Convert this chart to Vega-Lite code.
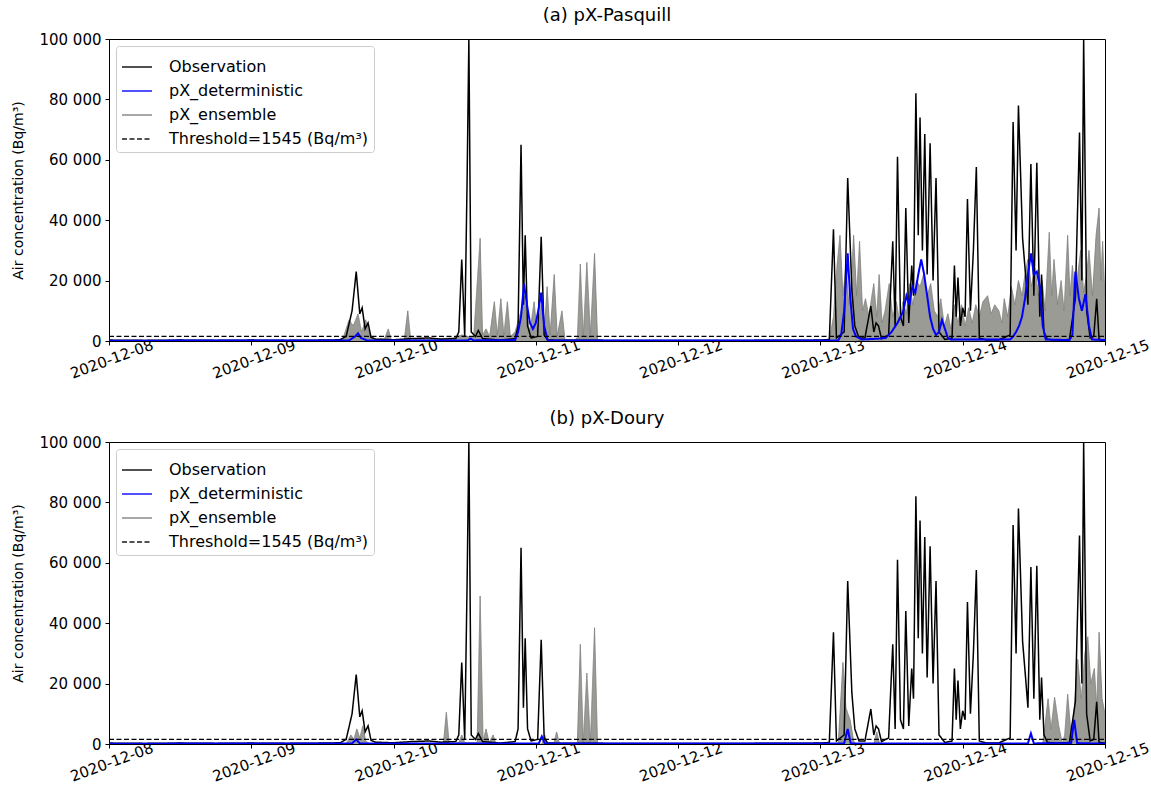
{
  "$schema": "https://vega.github.io/schema/vega-lite/v6.json",
  "padding": {"left": 11, "top": 6, "right": 5, "bottom": 5},
  "background": "white",
  "config": {
    "font": "DejaVu Sans",
    "view": {"stroke": "black", "strokeWidth": 1},
    "axis": {"labelFont": "DejaVu Sans", "labelFontSize": 15, "labelColor": "black", "titleFont": "DejaVu Sans", "titleFontSize": 14, "titleFontWeight": "normal", "titleColor": "black", "tickColor": "black", "domainColor": "black", "tickSize": 4, "grid": false},
    "legend": {"labelFont": "DejaVu Sans", "labelFontSize": 16, "labelColor": "black", "labelLimit": 0},
    "title": {"font": "DejaVu Sans", "fontSize": 18, "fontWeight": "normal", "color": "black", "anchor": "middle", "offset": 7}
  },
  "datasets": {
    "obs": [
      {"t":"2020-12-08T00:00","v":300,"s":"Observation"},{"t":"2020-12-08T06:00","v":200,"s":"Observation"},{"t":"2020-12-08T12:00","v":300,"s":"Observation"},{"t":"2020-12-08T18:00","v":200,"s":"Observation"},
      {"t":"2020-12-09T00:00","v":300,"s":"Observation"},{"t":"2020-12-09T06:00","v":200,"s":"Observation"},{"t":"2020-12-09T12:00","v":300,"s":"Observation"},{"t":"2020-12-09T15:00","v":400,"s":"Observation"},
      {"t":"2020-12-09T16:00","v":1500,"s":"Observation"},{"t":"2020-12-09T17:00","v":10000,"s":"Observation"},{"t":"2020-12-09T17:42","v":23000,"s":"Observation"},{"t":"2020-12-09T18:18","v":9000,"s":"Observation"},
      {"t":"2020-12-09T18:42","v":11000,"s":"Observation"},{"t":"2020-12-09T19:12","v":4000,"s":"Observation"},{"t":"2020-12-09T19:42","v":6000,"s":"Observation"},{"t":"2020-12-09T20:12","v":1200,"s":"Observation"},
      {"t":"2020-12-09T21:00","v":600,"s":"Observation"},{"t":"2020-12-10T00:00","v":400,"s":"Observation"},{"t":"2020-12-10T03:00","v":800,"s":"Observation"},{"t":"2020-12-10T06:00","v":1000,"s":"Observation"},
      {"t":"2020-12-10T08:00","v":600,"s":"Observation"},{"t":"2020-12-10T10:30","v":800,"s":"Observation"},{"t":"2020-12-10T11:00","v":3000,"s":"Observation"},{"t":"2020-12-10T11:30","v":27000,"s":"Observation"},
      {"t":"2020-12-10T12:00","v":1500,"s":"Observation"},{"t":"2020-12-10T12:24","v":53000,"s":"Observation"},{"t":"2020-12-10T12:42","v":100000,"s":"Observation"},{"t":"2020-12-10T13:06","v":3000,"s":"Observation"},
      {"t":"2020-12-10T13:48","v":1500,"s":"Observation"},{"t":"2020-12-10T14:18","v":3500,"s":"Observation"},{"t":"2020-12-10T15:00","v":800,"s":"Observation"},{"t":"2020-12-10T18:00","v":300,"s":"Observation"},
      {"t":"2020-12-10T20:30","v":800,"s":"Observation"},{"t":"2020-12-10T21:00","v":5000,"s":"Observation"},{"t":"2020-12-10T21:30","v":65000,"s":"Observation"},{"t":"2020-12-10T21:54","v":12000,"s":"Observation"},
      {"t":"2020-12-10T22:12","v":35000,"s":"Observation"},{"t":"2020-12-10T22:36","v":5000,"s":"Observation"},{"t":"2020-12-10T23:12","v":1000,"s":"Observation"},{"t":"2020-12-11T00:18","v":1500,"s":"Observation"},
      {"t":"2020-12-11T00:54","v":34500,"s":"Observation"},{"t":"2020-12-11T01:24","v":2000,"s":"Observation"},{"t":"2020-12-11T02:00","v":300,"s":"Observation"},{"t":"2020-12-11T12:00","v":200,"s":"Observation"},
      {"t":"2020-12-12T00:00","v":200,"s":"Observation"},{"t":"2020-12-12T12:00","v":200,"s":"Observation"},{"t":"2020-12-13T00:00","v":300,"s":"Observation"},{"t":"2020-12-13T01:30","v":500,"s":"Observation"},
      {"t":"2020-12-13T02:12","v":37000,"s":"Observation"},{"t":"2020-12-13T02:42","v":1000,"s":"Observation"},{"t":"2020-12-13T04:00","v":3000,"s":"Observation"},{"t":"2020-12-13T04:36","v":54000,"s":"Observation"},
      {"t":"2020-12-13T05:18","v":17000,"s":"Observation"},{"t":"2020-12-13T05:48","v":5000,"s":"Observation"},{"t":"2020-12-13T06:30","v":1000,"s":"Observation"},{"t":"2020-12-13T07:30","v":1000,"s":"Observation"},
      {"t":"2020-12-13T08:30","v":11600,"s":"Observation"},{"t":"2020-12-13T09:00","v":3000,"s":"Observation"},{"t":"2020-12-13T09:24","v":6000,"s":"Observation"},{"t":"2020-12-13T09:48","v":5000,"s":"Observation"},
      {"t":"2020-12-13T10:18","v":800,"s":"Observation"},{"t":"2020-12-13T11:30","v":2000,"s":"Observation"},{"t":"2020-12-13T12:12","v":33000,"s":"Observation"},{"t":"2020-12-13T12:36","v":5000,"s":"Observation"},
      {"t":"2020-12-13T13:00","v":61000,"s":"Observation"},{"t":"2020-12-13T13:30","v":8000,"s":"Observation"},{"t":"2020-12-13T14:00","v":5000,"s":"Observation"},{"t":"2020-12-13T14:24","v":44000,"s":"Observation"},
      {"t":"2020-12-13T14:54","v":6000,"s":"Observation"},{"t":"2020-12-13T15:24","v":25000,"s":"Observation"},{"t":"2020-12-13T15:42","v":15000,"s":"Observation"},{"t":"2020-12-13T16:06","v":82000,"s":"Observation"},
      {"t":"2020-12-13T16:30","v":35000,"s":"Observation"},{"t":"2020-12-13T16:48","v":74000,"s":"Observation"},{"t":"2020-12-13T17:12","v":30000,"s":"Observation"},{"t":"2020-12-13T17:36","v":68500,"s":"Observation"},
      {"t":"2020-12-13T18:00","v":22000,"s":"Observation"},{"t":"2020-12-13T18:30","v":65500,"s":"Observation"},{"t":"2020-12-13T19:00","v":20000,"s":"Observation"},{"t":"2020-12-13T19:30","v":54000,"s":"Observation"},
      {"t":"2020-12-13T20:00","v":3000,"s":"Observation"},{"t":"2020-12-13T21:00","v":500,"s":"Observation"},{"t":"2020-12-13T22:12","v":1000,"s":"Observation"},{"t":"2020-12-13T22:36","v":25000,"s":"Observation"},
      {"t":"2020-12-13T22:54","v":8000,"s":"Observation"},{"t":"2020-12-13T23:12","v":21000,"s":"Observation"},{"t":"2020-12-13T23:36","v":5000,"s":"Observation"},{"t":"2020-12-14T00:00","v":11000,"s":"Observation"},
      {"t":"2020-12-14T00:24","v":8000,"s":"Observation"},{"t":"2020-12-14T00:48","v":47000,"s":"Observation"},{"t":"2020-12-14T01:18","v":10000,"s":"Observation"},{"t":"2020-12-14T01:48","v":30000,"s":"Observation"},
      {"t":"2020-12-14T02:18","v":57600,"s":"Observation"},{"t":"2020-12-14T02:48","v":1000,"s":"Observation"},{"t":"2020-12-14T04:00","v":300,"s":"Observation"},{"t":"2020-12-14T06:00","v":300,"s":"Observation"},
      {"t":"2020-12-14T08:00","v":2000,"s":"Observation"},{"t":"2020-12-14T08:30","v":72500,"s":"Observation"},{"t":"2020-12-14T09:00","v":30000,"s":"Observation"},{"t":"2020-12-14T09:24","v":78000,"s":"Observation"},
      {"t":"2020-12-14T10:06","v":34000,"s":"Observation"},{"t":"2020-12-14T10:36","v":22000,"s":"Observation"},{"t":"2020-12-14T11:00","v":12000,"s":"Observation"},{"t":"2020-12-14T11:30","v":58600,"s":"Observation"},
      {"t":"2020-12-14T12:00","v":15000,"s":"Observation"},{"t":"2020-12-14T12:30","v":59000,"s":"Observation"},{"t":"2020-12-14T13:00","v":8000,"s":"Observation"},{"t":"2020-12-14T13:18","v":22000,"s":"Observation"},
      {"t":"2020-12-14T13:42","v":3000,"s":"Observation"},{"t":"2020-12-14T14:18","v":500,"s":"Observation"},{"t":"2020-12-14T16:00","v":300,"s":"Observation"},{"t":"2020-12-14T18:00","v":500,"s":"Observation"},
      {"t":"2020-12-14T19:00","v":14000,"s":"Observation"},{"t":"2020-12-14T19:42","v":69000,"s":"Observation"},{"t":"2020-12-14T20:06","v":20000,"s":"Observation"},{"t":"2020-12-14T20:24","v":100000,"s":"Observation"},
      {"t":"2020-12-14T20:54","v":10000,"s":"Observation"},{"t":"2020-12-14T21:30","v":1000,"s":"Observation"},{"t":"2020-12-14T22:06","v":1500,"s":"Observation"},{"t":"2020-12-14T22:36","v":14000,"s":"Observation"},
      {"t":"2020-12-14T23:00","v":500,"s":"Observation"},{"t":"2020-12-15T00:00","v":300,"s":"Observation"}
    ],
    "ens_a": [
      {"t":"2020-12-08T00:00","v":0,"s":"pX_ensemble"},{"t":"2020-12-09T14:00","v":0,"s":"pX_ensemble"},{"t":"2020-12-09T15:30","v":1000,"s":"pX_ensemble"},{"t":"2020-12-09T16:30","v":7000,"s":"pX_ensemble"},
      {"t":"2020-12-09T17:12","v":5000,"s":"pX_ensemble"},{"t":"2020-12-09T18:00","v":9000,"s":"pX_ensemble"},{"t":"2020-12-09T18:36","v":3000,"s":"pX_ensemble"},{"t":"2020-12-09T19:18","v":7000,"s":"pX_ensemble"},
      {"t":"2020-12-09T20:00","v":2000,"s":"pX_ensemble"},{"t":"2020-12-09T21:00","v":500,"s":"pX_ensemble"},{"t":"2020-12-09T22:30","v":800,"s":"pX_ensemble"},{"t":"2020-12-09T23:06","v":4000,"s":"pX_ensemble"},
      {"t":"2020-12-09T23:36","v":500,"s":"pX_ensemble"},{"t":"2020-12-10T01:48","v":300,"s":"pX_ensemble"},{"t":"2020-12-10T02:24","v":10000,"s":"pX_ensemble"},{"t":"2020-12-10T02:54","v":300,"s":"pX_ensemble"},
      {"t":"2020-12-10T05:00","v":600,"s":"pX_ensemble"},{"t":"2020-12-10T08:00","v":800,"s":"pX_ensemble"},{"t":"2020-12-10T10:00","v":1000,"s":"pX_ensemble"},{"t":"2020-12-10T11:30","v":2000,"s":"pX_ensemble"},
      {"t":"2020-12-10T12:30","v":1500,"s":"pX_ensemble"},{"t":"2020-12-10T13:30","v":1000,"s":"pX_ensemble"},{"t":"2020-12-10T14:36","v":34000,"s":"pX_ensemble"},{"t":"2020-12-10T15:00","v":2000,"s":"pX_ensemble"},
      {"t":"2020-12-10T15:36","v":4000,"s":"pX_ensemble"},{"t":"2020-12-10T16:12","v":1500,"s":"pX_ensemble"},{"t":"2020-12-10T17:00","v":13000,"s":"pX_ensemble"},{"t":"2020-12-10T17:30","v":2000,"s":"pX_ensemble"},
      {"t":"2020-12-10T18:06","v":14000,"s":"pX_ensemble"},{"t":"2020-12-10T18:36","v":2000,"s":"pX_ensemble"},{"t":"2020-12-10T19:12","v":13000,"s":"pX_ensemble"},{"t":"2020-12-10T19:42","v":1500,"s":"pX_ensemble"},
      {"t":"2020-12-10T20:30","v":3000,"s":"pX_ensemble"},{"t":"2020-12-10T21:30","v":10000,"s":"pX_ensemble"},{"t":"2020-12-10T22:00","v":15000,"s":"pX_ensemble"},{"t":"2020-12-10T22:30","v":8000,"s":"pX_ensemble"},
      {"t":"2020-12-10T23:00","v":3000,"s":"pX_ensemble"},{"t":"2020-12-10T23:42","v":13000,"s":"pX_ensemble"},{"t":"2020-12-11T00:12","v":3000,"s":"pX_ensemble"},{"t":"2020-12-11T00:54","v":12000,"s":"pX_ensemble"},
      {"t":"2020-12-11T01:24","v":2000,"s":"pX_ensemble"},{"t":"2020-12-11T01:54","v":18000,"s":"pX_ensemble"},{"t":"2020-12-11T02:24","v":2000,"s":"pX_ensemble"},{"t":"2020-12-11T03:06","v":22000,"s":"pX_ensemble"},
      {"t":"2020-12-11T03:36","v":1500,"s":"pX_ensemble"},{"t":"2020-12-11T04:24","v":10000,"s":"pX_ensemble"},{"t":"2020-12-11T04:54","v":500,"s":"pX_ensemble"},{"t":"2020-12-11T06:30","v":300,"s":"pX_ensemble"},
      {"t":"2020-12-11T07:00","v":1000,"s":"pX_ensemble"},{"t":"2020-12-11T07:30","v":25500,"s":"pX_ensemble"},{"t":"2020-12-11T08:00","v":1500,"s":"pX_ensemble"},{"t":"2020-12-11T08:36","v":26000,"s":"pX_ensemble"},
      {"t":"2020-12-11T09:12","v":2000,"s":"pX_ensemble"},{"t":"2020-12-11T09:54","v":29000,"s":"pX_ensemble"},{"t":"2020-12-11T10:24","v":500,"s":"pX_ensemble"},{"t":"2020-12-11T12:00","v":0,"s":"pX_ensemble"},
      {"t":"2020-12-13T00:00","v":0,"s":"pX_ensemble"},{"t":"2020-12-13T01:30","v":500,"s":"pX_ensemble"},{"t":"2020-12-13T02:12","v":8000,"s":"pX_ensemble"},{"t":"2020-12-13T02:48","v":25000,"s":"pX_ensemble"},
      {"t":"2020-12-13T03:18","v":35000,"s":"pX_ensemble"},{"t":"2020-12-13T03:48","v":15000,"s":"pX_ensemble"},{"t":"2020-12-13T04:18","v":25000,"s":"pX_ensemble"},{"t":"2020-12-13T04:48","v":12000,"s":"pX_ensemble"},
      {"t":"2020-12-13T05:12","v":20000,"s":"pX_ensemble"},{"t":"2020-12-13T05:36","v":35000,"s":"pX_ensemble"},{"t":"2020-12-13T06:06","v":15000,"s":"pX_ensemble"},{"t":"2020-12-13T06:36","v":33000,"s":"pX_ensemble"},
      {"t":"2020-12-13T07:06","v":10000,"s":"pX_ensemble"},{"t":"2020-12-13T07:36","v":14000,"s":"pX_ensemble"},{"t":"2020-12-13T08:12","v":8000,"s":"pX_ensemble"},{"t":"2020-12-13T08:36","v":14000,"s":"pX_ensemble"},
      {"t":"2020-12-13T09:00","v":19000,"s":"pX_ensemble"},{"t":"2020-12-13T09:30","v":8000,"s":"pX_ensemble"},{"t":"2020-12-13T09:54","v":22000,"s":"pX_ensemble"},{"t":"2020-12-13T10:24","v":6000,"s":"pX_ensemble"},
      {"t":"2020-12-13T10:54","v":10000,"s":"pX_ensemble"},{"t":"2020-12-13T11:36","v":19000,"s":"pX_ensemble"},{"t":"2020-12-13T12:12","v":8000,"s":"pX_ensemble"},{"t":"2020-12-13T12:48","v":13000,"s":"pX_ensemble"},
      {"t":"2020-12-13T13:24","v":6000,"s":"pX_ensemble"},{"t":"2020-12-13T13:54","v":13000,"s":"pX_ensemble"},{"t":"2020-12-13T14:30","v":9000,"s":"pX_ensemble"},{"t":"2020-12-13T15:00","v":19000,"s":"pX_ensemble"},
      {"t":"2020-12-13T15:36","v":12000,"s":"pX_ensemble"},{"t":"2020-12-13T16:12","v":20000,"s":"pX_ensemble"},{"t":"2020-12-13T16:48","v":18000,"s":"pX_ensemble"},{"t":"2020-12-13T17:24","v":22000,"s":"pX_ensemble"},
      {"t":"2020-12-13T18:00","v":15000,"s":"pX_ensemble"},{"t":"2020-12-13T18:36","v":19000,"s":"pX_ensemble"},{"t":"2020-12-13T19:12","v":10000,"s":"pX_ensemble"},{"t":"2020-12-13T19:48","v":8000,"s":"pX_ensemble"},
      {"t":"2020-12-13T20:18","v":14000,"s":"pX_ensemble"},{"t":"2020-12-13T20:54","v":5000,"s":"pX_ensemble"},{"t":"2020-12-13T21:30","v":9000,"s":"pX_ensemble"},{"t":"2020-12-13T22:00","v":4000,"s":"pX_ensemble"},
      {"t":"2020-12-13T22:36","v":12000,"s":"pX_ensemble"},{"t":"2020-12-13T23:12","v":6000,"s":"pX_ensemble"},{"t":"2020-12-13T23:48","v":12000,"s":"pX_ensemble"},{"t":"2020-12-14T00:24","v":5000,"s":"pX_ensemble"},
      {"t":"2020-12-14T01:00","v":11000,"s":"pX_ensemble"},{"t":"2020-12-14T01:36","v":6000,"s":"pX_ensemble"},{"t":"2020-12-14T02:12","v":12000,"s":"pX_ensemble"},{"t":"2020-12-14T02:48","v":8000,"s":"pX_ensemble"},
      {"t":"2020-12-14T03:24","v":13000,"s":"pX_ensemble"},{"t":"2020-12-14T04:12","v":15000,"s":"pX_ensemble"},{"t":"2020-12-14T04:48","v":9000,"s":"pX_ensemble"},{"t":"2020-12-14T05:24","v":12000,"s":"pX_ensemble"},
      {"t":"2020-12-14T06:06","v":10000,"s":"pX_ensemble"},{"t":"2020-12-14T06:36","v":6000,"s":"pX_ensemble"},{"t":"2020-12-14T07:00","v":14000,"s":"pX_ensemble"},{"t":"2020-12-14T07:36","v":8000,"s":"pX_ensemble"},
      {"t":"2020-12-14T08:12","v":18000,"s":"pX_ensemble"},{"t":"2020-12-14T08:48","v":12000,"s":"pX_ensemble"},{"t":"2020-12-14T09:24","v":20000,"s":"pX_ensemble"},{"t":"2020-12-14T10:00","v":15000,"s":"pX_ensemble"},
      {"t":"2020-12-14T10:30","v":22000,"s":"pX_ensemble"},{"t":"2020-12-14T11:00","v":27000,"s":"pX_ensemble"},{"t":"2020-12-14T11:36","v":18000,"s":"pX_ensemble"},{"t":"2020-12-14T12:12","v":24000,"s":"pX_ensemble"},
      {"t":"2020-12-14T12:48","v":15000,"s":"pX_ensemble"},{"t":"2020-12-14T13:24","v":20000,"s":"pX_ensemble"},{"t":"2020-12-14T13:54","v":10000,"s":"pX_ensemble"},{"t":"2020-12-14T14:36","v":36000,"s":"pX_ensemble"},
      {"t":"2020-12-14T15:00","v":15000,"s":"pX_ensemble"},{"t":"2020-12-14T15:24","v":27000,"s":"pX_ensemble"},{"t":"2020-12-14T16:00","v":12000,"s":"pX_ensemble"},{"t":"2020-12-14T16:36","v":20000,"s":"pX_ensemble"},
      {"t":"2020-12-14T17:06","v":10000,"s":"pX_ensemble"},{"t":"2020-12-14T17:42","v":35000,"s":"pX_ensemble"},{"t":"2020-12-14T18:06","v":15000,"s":"pX_ensemble"},{"t":"2020-12-14T18:30","v":25000,"s":"pX_ensemble"},
      {"t":"2020-12-14T19:00","v":14000,"s":"pX_ensemble"},{"t":"2020-12-14T19:24","v":22000,"s":"pX_ensemble"},{"t":"2020-12-14T19:54","v":30000,"s":"pX_ensemble"},{"t":"2020-12-14T20:24","v":16000,"s":"pX_ensemble"},
      {"t":"2020-12-14T20:54","v":22000,"s":"pX_ensemble"},{"t":"2020-12-14T21:18","v":30000,"s":"pX_ensemble"},{"t":"2020-12-14T21:54","v":15000,"s":"pX_ensemble"},{"t":"2020-12-14T22:30","v":35000,"s":"pX_ensemble"},
      {"t":"2020-12-14T23:00","v":44000,"s":"pX_ensemble"},{"t":"2020-12-14T23:18","v":20000,"s":"pX_ensemble"},{"t":"2020-12-14T23:36","v":33000,"s":"pX_ensemble"},{"t":"2020-12-15T00:00","v":15000,"s":"pX_ensemble"}
    ],
    "det_a": [
      {"t":"2020-12-08T00:00","v":100,"s":"pX_deterministic"},{"t":"2020-12-09T16:30","v":200,"s":"pX_deterministic"},{"t":"2020-12-09T17:30","v":1500,"s":"pX_deterministic"},{"t":"2020-12-09T18:00","v":2500,"s":"pX_deterministic"},
      {"t":"2020-12-09T18:30","v":1000,"s":"pX_deterministic"},{"t":"2020-12-09T19:30","v":200,"s":"pX_deterministic"},{"t":"2020-12-10T12:30","v":200,"s":"pX_deterministic"},{"t":"2020-12-10T13:00","v":800,"s":"pX_deterministic"},
      {"t":"2020-12-10T13:30","v":200,"s":"pX_deterministic"},{"t":"2020-12-10T20:30","v":300,"s":"pX_deterministic"},{"t":"2020-12-10T21:00","v":3000,"s":"pX_deterministic"},{"t":"2020-12-10T21:30","v":8000,"s":"pX_deterministic"},
      {"t":"2020-12-10T22:00","v":19000,"s":"pX_deterministic"},{"t":"2020-12-10T22:30","v":12000,"s":"pX_deterministic"},{"t":"2020-12-10T23:00","v":6000,"s":"pX_deterministic"},{"t":"2020-12-10T23:30","v":4000,"s":"pX_deterministic"},
      {"t":"2020-12-11T00:00","v":6000,"s":"pX_deterministic"},{"t":"2020-12-11T00:30","v":11000,"s":"pX_deterministic"},{"t":"2020-12-11T00:54","v":16000,"s":"pX_deterministic"},{"t":"2020-12-11T01:24","v":5000,"s":"pX_deterministic"},
      {"t":"2020-12-11T02:00","v":200,"s":"pX_deterministic"},{"t":"2020-12-13T03:00","v":200,"s":"pX_deterministic"},{"t":"2020-12-13T03:30","v":2000,"s":"pX_deterministic"},{"t":"2020-12-13T04:00","v":10000,"s":"pX_deterministic"},
      {"t":"2020-12-13T04:36","v":29000,"s":"pX_deterministic"},{"t":"2020-12-13T05:00","v":15000,"s":"pX_deterministic"},{"t":"2020-12-13T05:30","v":4000,"s":"pX_deterministic"},{"t":"2020-12-13T06:00","v":1500,"s":"pX_deterministic"},
      {"t":"2020-12-13T07:00","v":500,"s":"pX_deterministic"},{"t":"2020-12-13T10:00","v":800,"s":"pX_deterministic"},{"t":"2020-12-13T11:00","v":1000,"s":"pX_deterministic"},{"t":"2020-12-13T12:00","v":3000,"s":"pX_deterministic"},
      {"t":"2020-12-13T13:00","v":6000,"s":"pX_deterministic"},{"t":"2020-12-13T14:00","v":10000,"s":"pX_deterministic"},{"t":"2020-12-13T14:30","v":15000,"s":"pX_deterministic"},{"t":"2020-12-13T15:00","v":12000,"s":"pX_deterministic"},
      {"t":"2020-12-13T15:30","v":18000,"s":"pX_deterministic"},{"t":"2020-12-13T16:00","v":16000,"s":"pX_deterministic"},{"t":"2020-12-13T16:30","v":22000,"s":"pX_deterministic"},{"t":"2020-12-13T17:00","v":27000,"s":"pX_deterministic"},
      {"t":"2020-12-13T17:30","v":22000,"s":"pX_deterministic"},{"t":"2020-12-13T18:00","v":15000,"s":"pX_deterministic"},{"t":"2020-12-13T18:30","v":8000,"s":"pX_deterministic"},{"t":"2020-12-13T19:00","v":4000,"s":"pX_deterministic"},
      {"t":"2020-12-13T19:30","v":2000,"s":"pX_deterministic"},{"t":"2020-12-13T20:00","v":3000,"s":"pX_deterministic"},{"t":"2020-12-13T20:30","v":7000,"s":"pX_deterministic"},{"t":"2020-12-13T21:00","v":4000,"s":"pX_deterministic"},
      {"t":"2020-12-13T21:30","v":1000,"s":"pX_deterministic"},{"t":"2020-12-13T22:00","v":500,"s":"pX_deterministic"},{"t":"2020-12-14T08:00","v":500,"s":"pX_deterministic"},{"t":"2020-12-14T08:30","v":1500,"s":"pX_deterministic"},
      {"t":"2020-12-14T09:00","v":3000,"s":"pX_deterministic"},{"t":"2020-12-14T09:30","v":5000,"s":"pX_deterministic"},{"t":"2020-12-14T10:00","v":8000,"s":"pX_deterministic"},{"t":"2020-12-14T10:30","v":14000,"s":"pX_deterministic"},
      {"t":"2020-12-14T11:00","v":22000,"s":"pX_deterministic"},{"t":"2020-12-14T11:30","v":29000,"s":"pX_deterministic"},{"t":"2020-12-14T12:00","v":22000,"s":"pX_deterministic"},{"t":"2020-12-14T12:30","v":23000,"s":"pX_deterministic"},
      {"t":"2020-12-14T13:00","v":18000,"s":"pX_deterministic"},{"t":"2020-12-14T13:30","v":5000,"s":"pX_deterministic"},{"t":"2020-12-14T14:00","v":500,"s":"pX_deterministic"},{"t":"2020-12-14T18:00","v":300,"s":"pX_deterministic"},
      {"t":"2020-12-14T18:30","v":2000,"s":"pX_deterministic"},{"t":"2020-12-14T19:00","v":23000,"s":"pX_deterministic"},{"t":"2020-12-14T19:36","v":14000,"s":"pX_deterministic"},{"t":"2020-12-14T20:06","v":10000,"s":"pX_deterministic"},
      {"t":"2020-12-14T20:42","v":15500,"s":"pX_deterministic"},{"t":"2020-12-14T21:18","v":5000,"s":"pX_deterministic"},{"t":"2020-12-14T21:48","v":500,"s":"pX_deterministic"},{"t":"2020-12-15T00:00","v":300,"s":"pX_deterministic"}
    ],
    "det_b": [
      {"t":"2020-12-08T00:00","v":100,"s":"pX_deterministic"},{"t":"2020-12-09T17:00","v":200,"s":"pX_deterministic"},{"t":"2020-12-09T17:42","v":1500,"s":"pX_deterministic"},{"t":"2020-12-09T18:18","v":200,"s":"pX_deterministic"},
      {"t":"2020-12-11T00:30","v":200,"s":"pX_deterministic"},{"t":"2020-12-11T01:00","v":2500,"s":"pX_deterministic"},{"t":"2020-12-11T01:30","v":200,"s":"pX_deterministic"},{"t":"2020-12-13T04:00","v":200,"s":"pX_deterministic"},
      {"t":"2020-12-13T04:36","v":5000,"s":"pX_deterministic"},{"t":"2020-12-13T05:06","v":200,"s":"pX_deterministic"},{"t":"2020-12-14T11:00","v":200,"s":"pX_deterministic"},{"t":"2020-12-14T11:30","v":3500,"s":"pX_deterministic"},
      {"t":"2020-12-14T12:00","v":200,"s":"pX_deterministic"},{"t":"2020-12-14T18:18","v":300,"s":"pX_deterministic"},{"t":"2020-12-14T18:48","v":8000,"s":"pX_deterministic"},{"t":"2020-12-14T19:18","v":300,"s":"pX_deterministic"},
      {"t":"2020-12-15T00:00","v":100,"s":"pX_deterministic"}
    ],
    "ens_b": [
      {"t":"2020-12-08T00:00","v":0,"s":"pX_ensemble"},{"t":"2020-12-09T16:00","v":0,"s":"pX_ensemble"},{"t":"2020-12-09T16:48","v":3000,"s":"pX_ensemble"},{"t":"2020-12-09T17:18","v":1500,"s":"pX_ensemble"},
      {"t":"2020-12-09T17:48","v":5000,"s":"pX_ensemble"},{"t":"2020-12-09T18:18","v":2000,"s":"pX_ensemble"},{"t":"2020-12-09T18:48","v":6000,"s":"pX_ensemble"},{"t":"2020-12-09T19:18","v":1000,"s":"pX_ensemble"},
      {"t":"2020-12-09T20:00","v":0,"s":"pX_ensemble"},{"t":"2020-12-10T08:24","v":0,"s":"pX_ensemble"},{"t":"2020-12-10T08:54","v":10500,"s":"pX_ensemble"},{"t":"2020-12-10T09:24","v":0,"s":"pX_ensemble"},
      {"t":"2020-12-10T11:00","v":500,"s":"pX_ensemble"},{"t":"2020-12-10T11:30","v":3000,"s":"pX_ensemble"},{"t":"2020-12-10T12:00","v":500,"s":"pX_ensemble"},{"t":"2020-12-10T14:06","v":500,"s":"pX_ensemble"},
      {"t":"2020-12-10T14:36","v":49000,"s":"pX_ensemble"},{"t":"2020-12-10T15:06","v":1000,"s":"pX_ensemble"},{"t":"2020-12-10T15:36","v":5000,"s":"pX_ensemble"},{"t":"2020-12-10T16:06","v":500,"s":"pX_ensemble"},
      {"t":"2020-12-10T16:48","v":3000,"s":"pX_ensemble"},{"t":"2020-12-10T17:18","v":0,"s":"pX_ensemble"},{"t":"2020-12-11T01:00","v":0,"s":"pX_ensemble"},{"t":"2020-12-11T01:30","v":3000,"s":"pX_ensemble"},
      {"t":"2020-12-11T02:00","v":0,"s":"pX_ensemble"},{"t":"2020-12-11T03:00","v":0,"s":"pX_ensemble"},{"t":"2020-12-11T03:30","v":4000,"s":"pX_ensemble"},{"t":"2020-12-11T04:00","v":0,"s":"pX_ensemble"},
      {"t":"2020-12-11T07:00","v":0,"s":"pX_ensemble"},{"t":"2020-12-11T07:30","v":33000,"s":"pX_ensemble"},{"t":"2020-12-11T08:00","v":500,"s":"pX_ensemble"},{"t":"2020-12-11T08:36","v":23500,"s":"pX_ensemble"},
      {"t":"2020-12-11T09:12","v":500,"s":"pX_ensemble"},{"t":"2020-12-11T09:54","v":38500,"s":"pX_ensemble"},{"t":"2020-12-11T10:24","v":0,"s":"pX_ensemble"},{"t":"2020-12-13T03:00","v":0,"s":"pX_ensemble"},
      {"t":"2020-12-13T03:48","v":27000,"s":"pX_ensemble"},{"t":"2020-12-13T04:18","v":12000,"s":"pX_ensemble"},{"t":"2020-12-13T05:00","v":8000,"s":"pX_ensemble"},{"t":"2020-12-13T05:36","v":1000,"s":"pX_ensemble"},
      {"t":"2020-12-13T06:00","v":0,"s":"pX_ensemble"},{"t":"2020-12-13T09:00","v":0,"s":"pX_ensemble"},{"t":"2020-12-13T09:30","v":4000,"s":"pX_ensemble"},{"t":"2020-12-13T10:00","v":0,"s":"pX_ensemble"},
      {"t":"2020-12-14T13:30","v":0,"s":"pX_ensemble"},{"t":"2020-12-14T14:24","v":15000,"s":"pX_ensemble"},{"t":"2020-12-14T14:54","v":5000,"s":"pX_ensemble"},{"t":"2020-12-14T15:30","v":15500,"s":"pX_ensemble"},
      {"t":"2020-12-14T16:12","v":6000,"s":"pX_ensemble"},{"t":"2020-12-14T16:48","v":0,"s":"pX_ensemble"},{"t":"2020-12-14T17:12","v":3000,"s":"pX_ensemble"},{"t":"2020-12-14T17:42","v":16500,"s":"pX_ensemble"},
      {"t":"2020-12-14T18:12","v":5000,"s":"pX_ensemble"},{"t":"2020-12-14T18:42","v":8000,"s":"pX_ensemble"},{"t":"2020-12-14T19:24","v":28000,"s":"pX_ensemble"},{"t":"2020-12-14T20:00","v":15000,"s":"pX_ensemble"},
      {"t":"2020-12-14T20:36","v":30000,"s":"pX_ensemble"},{"t":"2020-12-14T21:06","v":35500,"s":"pX_ensemble"},{"t":"2020-12-14T21:36","v":20000,"s":"pX_ensemble"},{"t":"2020-12-14T22:12","v":25000,"s":"pX_ensemble"},
      {"t":"2020-12-14T22:36","v":12000,"s":"pX_ensemble"},{"t":"2020-12-14T23:00","v":37000,"s":"pX_ensemble"},{"t":"2020-12-14T23:30","v":15000,"s":"pX_ensemble"},{"t":"2020-12-15T00:00","v":10000,"s":"pX_ensemble"}
    ],
    "thr": [
      {"t":"2020-12-08T00:00","v":1545,"s":"Threshold=1545 (Bq/m³)"},{"t":"2020-12-15T00:00","v":1545,"s":"Threshold=1545 (Bq/m³)"}
    ]
  },
  "resolve": {"scale": {"color": "independent", "strokeDash": "independent"}, "legend": {"color": "independent", "strokeDash": "independent"}},
  "spacing": 27,
  "vconcat": [
    {
      "title": {"text": "(a) pX-Pasquill"},
      "width": 996, "height": 302,
      "encoding": {
        "x": {"field": "t", "type": "temporal", "scale": {"domain": [{"year": 2020, "month": 12, "date": 8}, {"year": 2020, "month": 12, "date": 15}]}, "axis": {"title": null, "format": "%Y-%m-%d", "tickCount": {"interval": "day", "step": 1}, "labelAngle": -20, "labelAlign": "center", "labelBaseline": "top", "labelPadding": 7, "labelOverlap": false, "labelFlush": false, "labelBound": false}},
        "y": {"field": "v", "type": "quantitative", "scale": {"domain": [0, 100000], "nice": false}, "axis": {"title": "Air concentration (Bq/m³)", "values": [0, 20000, 40000, 60000, 80000, 100000], "labelExpr": "replace(format(datum.value, ','), regexp(',', 'g'), ' ')", "labelPadding": 4, "titlePadding": 13}},
        "color": {"field": "s", "type": "nominal", "scale": {"domain": ["Observation", "pX_deterministic", "pX_ensemble", "Threshold=1545 (Bq/m³)"], "range": ["#000000", "#0000ff", "#808080", "#000000"]}, "legend": {"title": null, "orient": "top-left", "offset": 7, "fillColor": "white", "strokeColor": "#cccccc", "cornerRadius": 3, "padding": 5, "symbolType": "stroke", "symbolSize": 900, "symbolStrokeWidth": 1.5, "rowPadding": 0, "labelOffset": 16}},
        "strokeDash": {"field": "s", "type": "nominal", "scale": {"domain": ["Observation", "pX_deterministic", "pX_ensemble", "Threshold=1545 (Bq/m³)"], "range": [[1, 0], [1, 0], [1, 0], [5, 2.5]]}, "legend": {"title": null, "orient": "top-left", "offset": 7, "fillColor": "white", "strokeColor": "#cccccc", "cornerRadius": 3, "padding": 5, "symbolType": "stroke", "symbolSize": 900, "symbolStrokeWidth": 1.5, "rowPadding": 0, "labelOffset": 16}}
      },
      "layer": [
        {"data": {"name": "ens_a"}, "mark": {"type": "area", "clip": true, "opacity": 0.85, "interpolate": "linear"}, "encoding": {"color": {"value": "#8a8a84"}, "strokeDash": {"value": [1, 0]}}},
        {"data": {"name": "ens_a"}, "mark": {"type": "line", "clip": true, "strokeWidth": 1, "opacity": 0.9}},
        {"data": {"name": "obs"}, "mark": {"type": "line", "clip": true, "strokeWidth": 1.5}},
        {"data": {"name": "det_a"}, "mark": {"type": "line", "clip": true, "strokeWidth": 2}},
        {"data": {"name": "thr"}, "mark": {"type": "line", "clip": true, "strokeWidth": 1.3}}
      ]
    },
    {
      "title": {"text": "(b) pX-Doury"},
      "width": 996, "height": 302,
      "encoding": {
        "x": {"field": "t", "type": "temporal", "scale": {"domain": [{"year": 2020, "month": 12, "date": 8}, {"year": 2020, "month": 12, "date": 15}]}, "axis": {"title": null, "format": "%Y-%m-%d", "tickCount": {"interval": "day", "step": 1}, "labelAngle": -20, "labelAlign": "center", "labelBaseline": "top", "labelPadding": 7, "labelOverlap": false, "labelFlush": false, "labelBound": false}},
        "y": {"field": "v", "type": "quantitative", "scale": {"domain": [0, 100000], "nice": false}, "axis": {"title": "Air concentration (Bq/m³)", "values": [0, 20000, 40000, 60000, 80000, 100000], "labelExpr": "replace(format(datum.value, ','), regexp(',', 'g'), ' ')", "labelPadding": 4, "titlePadding": 13}},
        "color": {"field": "s", "type": "nominal", "scale": {"domain": ["Observation", "pX_deterministic", "pX_ensemble", "Threshold=1545 (Bq/m³)"], "range": ["#000000", "#0000ff", "#808080", "#000000"]}, "legend": {"title": null, "orient": "top-left", "offset": 7, "fillColor": "white", "strokeColor": "#cccccc", "cornerRadius": 3, "padding": 5, "symbolType": "stroke", "symbolSize": 900, "symbolStrokeWidth": 1.5, "rowPadding": 0, "labelOffset": 16}},
        "strokeDash": {"field": "s", "type": "nominal", "scale": {"domain": ["Observation", "pX_deterministic", "pX_ensemble", "Threshold=1545 (Bq/m³)"], "range": [[1, 0], [1, 0], [1, 0], [5, 2.5]]}, "legend": {"title": null, "orient": "top-left", "offset": 7, "fillColor": "white", "strokeColor": "#cccccc", "cornerRadius": 3, "padding": 5, "symbolType": "stroke", "symbolSize": 900, "symbolStrokeWidth": 1.5, "rowPadding": 0, "labelOffset": 16}}
      },
      "layer": [
        {"data": {"name": "ens_b"}, "mark": {"type": "area", "clip": true, "opacity": 0.85, "interpolate": "linear"}, "encoding": {"color": {"value": "#8a8a84"}, "strokeDash": {"value": [1, 0]}}},
        {"data": {"name": "ens_b"}, "mark": {"type": "line", "clip": true, "strokeWidth": 1, "opacity": 0.9}},
        {"data": {"name": "obs"}, "mark": {"type": "line", "clip": true, "strokeWidth": 1.5}},
        {"data": {"name": "det_b"}, "mark": {"type": "line", "clip": true, "strokeWidth": 2}},
        {"data": {"name": "thr"}, "mark": {"type": "line", "clip": true, "strokeWidth": 1.3}}
      ]
    }
  ]
}
